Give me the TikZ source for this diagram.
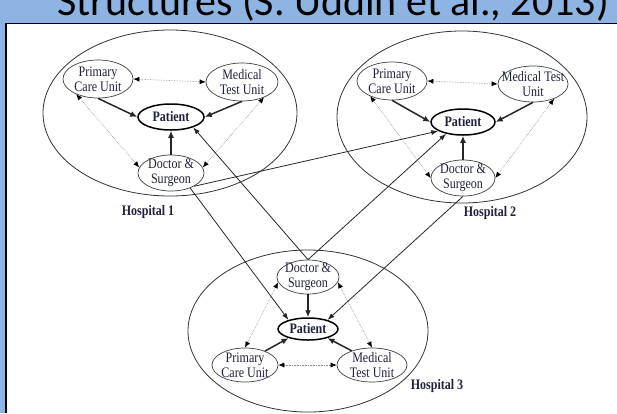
\documentclass[tikz,border=0pt]{standalone}
\usepackage{fontspec}
\setmainfont{Liberation Serif}
\newfontfamily\titlefont{Carlito}
\newfontfamily\figfont[FakeStretch=0.83]{Liberation Serif}
\usepackage{tikz}
\usetikzlibrary{positioning,shapes,arrows.meta,calc}
\definecolor{slideblue}{RGB}{141,180,227}
\definecolor{inkblue}{RGB}{30,34,58}

\tikzset{
  hospital/.style={ellipse, draw=black!80, line width=0.8pt},
  unit/.style={ellipse, draw=black!75, line width=0.7pt, fill=white, align=center,
    inner xsep=-10pt, inner ysep=-5pt, text=inkblue,
    font=\figfont\fontsize{14.5}{15}\selectfont},
  patient/.style={unit, draw=black, line width=1.5pt, font=\figfont\fontsize{14.5}{15}\selectfont\bfseries},
  hlabel/.style={font=\figfont\fontsize{14.5}{15}\selectfont\bfseries, text=inkblue},
  strong/.style={-{Latex[length=7pt,width=6pt]}, line width=1.5pt, draw=black!85},
  weak/.style={{Latex[black,length=6pt,width=5pt]}-{Latex[black,length=6pt,width=5pt]},
    densely dotted, draw=black!45, line width=0.6pt},
  link/.style={-{Latex[length=7pt,width=5pt]}, line width=0.8pt, draw=black!85}
}

\begin{document}
\begin{tikzpicture}[x=1pt, y=-1pt]
      \useasboundingbox (0,0) rectangle (617,413);
      \clip (0,0) rectangle (617,413);
      % slide background and frame
      \fill[slideblue] (0,0) rectangle (617,23.5);
      \fill[slideblue] (0,0) rectangle (5,413);
      \draw[line width=1.5pt] (5.8,413) -- (5.8,23.5) -- (617,23.5);
      \node[anchor=base west, inner sep=0, font=\titlefont\fontsize{42}{42}\selectfont]
        (title) at (57,15) {Structures (S. Uddin et al., 2013)};

      % hospitals
      \node[hospital, minimum width=254pt, minimum height=166pt] (hosp1) at (170,113) {};
      \node[hospital, minimum width=250pt, minimum height=172pt] (hosp2) at (462,117) {};
      \node[hospital, minimum width=240pt, minimum height=162pt] (hosp3) at (308,331) {};
      \node[hlabel] (lab1) at (148,212) {Hospital 1};
      \node[hlabel] (lab2) at (490,213) {Hospital 2};
      \node[hlabel] (lab3) at (437,386) {Hospital 3};

      % hospital 1
      \node[unit, minimum width=70pt, minimum height=38pt] (h1pcu) at (98,79) {Primary\\Care Unit};
      \node[unit, minimum width=72pt, minimum height=38pt] (h1mtu) at (242,82) {Medical\\Test Unit};
      \node[patient, minimum width=66pt, minimum height=26pt] (h1pat) at (171,117) {Patient};
      \node[unit, minimum width=66pt, minimum height=36pt] (h1doc) at (171,173) {Doctor \&\\Surgeon};

      % hospital 2
      \node[unit, minimum width=70pt, minimum height=38pt] (h2pcu) at (392,81) {Primary\\Care Unit};
      \node[unit, minimum width=70pt, minimum height=36pt] (h2mtu) at (533,84) {Medical Test\\Unit};
      \node[patient, minimum width=64pt, minimum height=26pt] (h2pat) at (463,122) {Patient};
      \node[unit, minimum width=64pt, minimum height=36pt] (h2doc) at (463,178) {Doctor \&\\Surgeon};

      % hospital 3
      \node[unit, minimum width=62pt, minimum height=34pt] (h3doc) at (308,277) {Doctor \&\\Surgeon};
      \node[patient, minimum width=60pt, minimum height=22pt] (h3pat) at (308,329) {Patient};
      \node[unit, minimum width=66pt, minimum height=34pt] (h3pcu) at (245,365) {Primary\\Care Unit};
      \node[unit, minimum width=70pt, minimum height=34pt] (h3mtu) at (372,365) {Medical\\Test Unit};

      \draw[weak] (h1pcu.east) -- (h1mtu.west);
      \draw[strong] (h1pcu.south) -- (h1pat.west);
      \draw[strong] (h1mtu.south) -- (h1pat.east);
      \draw[strong] (h1doc.north) -- (h1pat.south);
      \draw[weak] (h1pcu.-145) -- (h1doc.170);
      \draw[weak] (h1mtu.-35) -- (h1doc.10);

      \draw[weak] (h2pcu.east) -- (h2mtu.west);
      \draw[strong] (h2pcu.south) -- (h2pat.west);
      \draw[strong] (h2mtu.south) -- (h2pat.east);
      \draw[strong] (h2doc.north) -- (h2pat.south);
      \draw[weak] (h2pcu.-145) -- (h2doc.west);
      \draw[weak] (h2mtu.-35) -- (h2doc.east);

      \draw[weak] (h3pcu.east) -- (h3mtu.west);
      \draw[strong] (h3pcu.35) -- (h3pat.-155);
      \draw[strong] (h3mtu.145) -- (h3pat.-25);
      \draw[strong] (h3doc.south) -- (h3pat.north);
      \draw[weak] (h3doc.190) -- (h3pcu.north);
      \draw[weak] (h3doc.-10) -- (h3mtu.north);

      % links between hospitals
      \draw[link] (h1doc.-30) -- (h2pat.-160);
      \draw[link] (h1doc.-38) -- (h3pat.155);
      \draw[link] (h3doc.north) -- (h1pat.-25);
      \draw[link] (h3doc.north) -- (h2pat.-145);
      \draw[link] (h2doc.south) -- (h3pat.25);
\end{tikzpicture}
\end{document}
